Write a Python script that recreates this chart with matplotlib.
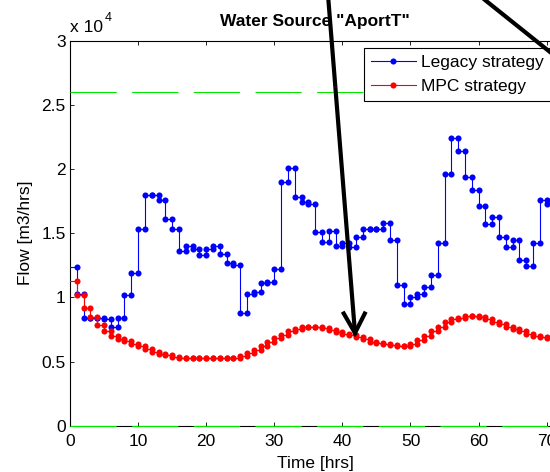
import numpy as np
import matplotlib
matplotlib.use("Agg")
import matplotlib.pyplot as plt
from matplotlib.lines import Line2D
from matplotlib.ticker import FixedLocator, FuncFormatter

plt.rcParams['font.family'] = ['Liberation Sans', 'DejaVu Sans']
plt.rcParams['lines.scale_dashes'] = False

# ---------------- data ----------------
hours = np.arange(72)
legacy_flow = [12400, 10300, 8400, 8400, 8400, 8300, 7700, 8400, 10200, 11900,
               15300, 18000, 18000, 17600, 16100, 15300, 13600, 14000, 13800, 13300,
               13800, 14000, 13400, 12700, 12500, 8800, 10300, 10400, 11100, 11200,
               12200, 19000, 20100, 17800, 17400, 17300, 15100, 14300, 15200, 14000,
               14200, 13900, 14700, 15300, 15300, 15300, 15800, 14500, 11000, 9500,
               10000, 10300, 10800, 11750, 14200, 19600, 22400, 21400, 19350, 18400,
               17150, 15700, 16300, 14700, 13950, 14500, 12900, 12450, 14200, 17600,
               17300, 17300]
mpc_flow = [11300, 10200, 9200, 8450, 7850, 7350, 7000, 6750, 6600, 6400,
            6200, 5950, 5750, 5580, 5480, 5380, 5280, 5250, 5250, 5250,
            5250, 5250, 5250, 5250, 5300, 5450, 5650, 5900, 6200, 6500,
            6800, 7100, 7350, 7550, 7680, 7720, 7680, 7580, 7460, 7300,
            7130, 7030, 6900, 6720, 6550, 6450, 6350, 6250, 6180, 6180,
            6350, 6700, 7000, 7370, 7720, 8050, 8280, 8430, 8520, 8530,
            8450, 8280, 8080, 7900, 7700, 7550, 7350, 7160, 7000, 6900,
            6830, 6800]
max_flow_limit = 26000
min_flow_limit = 0
x_ticks = [0, 10, 20, 30, 40, 50, 60, 70]
y_ticks = [0, 5000, 10000, 15000, 20000, 25000, 30000]
series_labels = ["Legacy strategy", "MPC strategy"]
title_text = 'Water Source "AportT"'
x_label = "Time [hrs]"
y_label = "Flow [m3/hrs]"
x_max = 72
y_max = 30000

FS = 12.5


def stairs(t, v):
    t = np.asarray(t, dtype=float)
    v = np.asarray(v, dtype=float)
    edges = np.append(t, t[-1] + 1)
    xs = np.repeat(edges, 2)[1:-1]
    ys = np.repeat(v, 2)
    return xs, ys


fig = plt.figure(figsize=(5.5, 4.72), dpi=100)
W, H = 550.0, 472.0
ax_left, ax_bottom_px, ax_top_px = 70.0, 425.7, 40.7
ax_right_px = 70.0 + 72 * 6.81
ax = fig.add_axes([ax_left / W, 1 - ax_bottom_px / H,
                   (ax_right_px - ax_left) / W, (ax_bottom_px - ax_top_px) / H])

# limits (green dashed)
for lim in (max_flow_limit, min_flow_limit):
    ax.plot([0, x_max], [lim, lim], color=(0, 0.9, 0), lw=0.8,
            dashes=(33.3, 11.1), zorder=3, clip_on=(lim != 0))

xb, yb = stairs(hours, legacy_flow)
xr, yr = stairs(hours, mpc_flow)
ax.plot(xb, yb, color='blue', lw=0.8, marker='o', ms=4.4, mew=0,
        markevery=slice(1, None), label=series_labels[0], zorder=4)
ax.plot(xr, yr, color='red', lw=0.8, marker='o', ms=4.4, mew=0,
        markevery=slice(1, None), label=series_labels[1], zorder=4)

ax.set_xlim(0, x_max)
ax.set_ylim(0, y_max)
ax.xaxis.set_major_locator(FixedLocator(x_ticks))
ax.yaxis.set_major_locator(FixedLocator(y_ticks))
ax.yaxis.set_major_formatter(FuncFormatter(lambda v, p: "%g" % (v / 1e4)))
ax.tick_params(axis='both', direction='in', length=3.2, width=0.6,
               labelsize=FS, top=True, right=True)
ax.tick_params(axis='x', pad=6)
ax.tick_params(axis='y', pad=3)
for s in ax.spines.values():
    s.set_linewidth(0.8)

ax.set_title(title_text, fontsize=FS, fontweight='bold', pad=10.6)
ax.set_xlabel(x_label, fontsize=FS)
ax.set_ylabel(y_label, fontsize=FS)
ax.xaxis.set_label_coords((315 - ax_left) / (ax_right_px - ax_left),
                          -(468 - ax_bottom_px) / (ax_bottom_px - ax_top_px))
ax.xaxis.label.set_va('baseline')
ax.yaxis.set_label_coords(-(70 - 33) / (ax_right_px - ax_left), 0.5)

# exponent label
fig.text(70 / W, 1 - 32 / H, "x 10", fontsize=FS, ha='left', va='baseline')
fig.text(105 / W, 1 - 20.7 / H, "4", fontsize=9, ha='left', va='baseline')

leg = ax.legend(loc='upper left', bbox_to_anchor=(364 / W, 1 - 47.7 / H),
                bbox_transform=fig.transFigure, fancybox=False, framealpha=1,
                edgecolor='black', fontsize=FS, handlelength=2.55,
                handletextpad=0.3, borderaxespad=0, borderpad=0.42,
                labelspacing=0.5, numpoints=1)
leg.get_frame().set_linewidth(0.8)
leg.set_zorder(10)

# annotation arrows (figure overlay)
def fpt(x, y):
    return x / W, 1 - y / H

a = [fpt(328, -5), fpt(355, 333)]
fig.add_artist(Line2D([a[0][0], a[1][0]], [a[0][1], a[1][1]],
                      transform=fig.transFigure, color='k', lw=3.0, zorder=20))
hd = [fpt(342.7, 311.7), fpt(355, 333), fpt(365.7, 311.7)]
fig.add_artist(Line2D([p[0] for p in hd], [p[1] for p in hd],
                      transform=fig.transFigure, color='k', lw=3.0,
                      solid_joinstyle='miter', solid_capstyle='butt', zorder=20))
b = [fpt(485, 0), fpt(560, 60)]
fig.add_artist(Line2D([b[0][0], b[1][0]], [b[0][1], b[1][1]],
                      transform=fig.transFigure, color='k', lw=3.0, zorder=20))

fig.savefig("out.png", dpi=100)
